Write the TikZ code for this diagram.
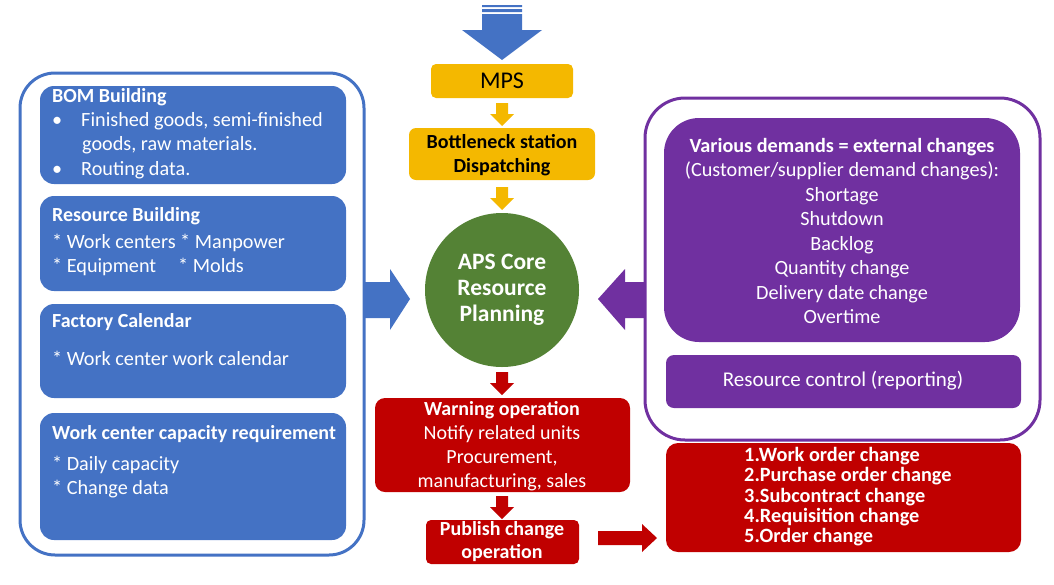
\documentclass[tikz,border=0pt]{standalone}
\usepackage{fontspec}
\setmainfont{Carlito}
\usetikzlibrary{calc}
\definecolor{blu}{HTML}{4472C4}
\definecolor{yel}{HTML}{F4B800}
\definecolor{grn}{HTML}{548235}
\definecolor{rd}{HTML}{C00000}
\definecolor{pur}{HTML}{7030A0}
\begin{document}
\begin{tikzpicture}[x=1pt,y=-1pt,
  txt/.style={align=center,inner sep=0pt},
  wtxt/.style={txt,text=white},
  ltxt/.style={align=left,inner sep=0pt,text=white,anchor=north west}]
\useasboundingbox (0,0) rectangle (1054,584);
% top arrow
\fill[blu] (482,14) rectangle (522,30) (462,30) -- (542,30) -- (502,60) -- cycle;
\fill[blu] (482,5) rectangle (522,7) (482,9) rectangle (522,12);
% MPS
\fill[yel,rounded corners=5] (431,64) rectangle (573,98);
\node[txt,font=\fontsize{24}{28}\selectfont] (mps) at (502,81) {MPS};
\fill[yel] (496,103) rectangle (508,114) (490,114) -- (514,114) -- (502,126) -- cycle;
\fill[yel,rounded corners=7] (409,128) rectangle (595,180);
\node[txt,font=\bfseries\fontsize{20}{24}\selectfont] (bn) at (502,155) {Bottleneck station\\Dispatching};
\fill[yel] (496,187) rectangle (508,198) (490,198) -- (514,198) -- (502,210) -- cycle;
% circle
\fill[grn] (502,290) circle (77);
\node[txt,text=white,font=\bfseries\fontsize{23.5}{26}\selectfont] (aps) at (502,290) {APS Core\\Resource\\Planning};
% red arrows
\fill[rd] (496,372) rectangle (508,383) (490,383) -- (514,383) -- (502,395) -- cycle;
\fill[rd,rounded corners=10] (375,398) rectangle (630,492);
\node[wtxt,font=\fontsize{20}{24}\selectfont] (warn) at (502,446) {\textbf{Warning operation}\\Notify related units\\Procurement,\\manufacturing, sales};
\fill[rd] (496,496) rectangle (508,507) (490,507) -- (514,507) -- (502,519) -- cycle;
\fill[rd,rounded corners=5] (426,520) rectangle (579,564);
\node[wtxt,font=\bfseries\fontsize{20}{23}\selectfont] (pub) at (502,542) {Publish change\\operation};
\fill[rd] (598,531) rectangle (642,545) (642,524) -- (657,538) -- (642,552) -- cycle;
\fill[rd,rounded corners=12] (666,443) rectangle (1021,552);
\node[ltxt,font=\bfseries\fontsize{20.3}{20.3}\selectfont] (chg) at (744,447) {1.Work order change\\2.Purchase order change\\3.Subcontract change\\4.Requisition change\\5.Order change};
% left panel
\draw[blu,line width=3,rounded corners=35] (20,73) rectangle (364,555);
\fill[blu,rounded corners=14] (40,86) rectangle (346,184);
\node[ltxt,font=\bfseries\fontsize{20}{20}\selectfont] (bom) at (52,88) {BOM Building};
\node[ltxt,font=\fontsize{20.2}{24.5}\selectfont] at (52,112) {•\hspace{19pt}Finished goods, semi-finished\\\hspace{30pt}goods, raw materials.\\•\hspace{19pt}Routing data.};
\fill[blu,rounded corners=14] (40,196) rectangle (346,291);
\node[ltxt,font=\bfseries\fontsize{20}{20}\selectfont] (res) at (52,207) {Resource Building};
\node[ltxt,font=\fontsize{20.2}{24}\selectfont] at (52,234) {* Work centers * Manpower\\* Equipment\hspace{22pt}* Molds};
\fill[blu,rounded corners=14] (40,304) rectangle (346,398);
\node[ltxt,font=\bfseries\fontsize{20}{20}\selectfont] (fac) at (52,313) {Factory Calendar};
\node[ltxt,font=\fontsize{20.2}{20}\selectfont] at (52,351) {* Work center work calendar};
\fill[blu,rounded corners=14] (40,413) rectangle (346,540);
\node[ltxt,font=\bfseries\fontsize{20}{20}\selectfont] (wc) at (52,425) {Work center capacity requirement};
\node[ltxt,font=\fontsize{20.2}{24}\selectfont] at (52,456) {* Daily capacity\\* Change data};
\fill[blu] (364,282) rectangle (390,318) (390,269) -- (410,299) -- (390,330) -- cycle;
% right panel
\draw[pur,line width=3,rounded corners=40] (645,98) rectangle (1040,440);
\fill[pur,rounded corners=35] (664,118) rectangle (1020,342);
\node[wtxt,font=\fontsize{20.2}{24.5}\selectfont] (dem) at (842,231) {\textbf{Various demands = external changes}\\(Customer/supplier demand changes):\\Shortage\\Shutdown\\Backlog\\Quantity change\\Delivery date change\\Overtime};
\fill[pur,rounded corners=8] (666,355) rectangle (1021,408);
\node[wtxt,font=\fontsize{21}{22}\selectfont] (rc) at (843,381) {Resource control (reporting)};
\fill[pur] (625,282) rectangle (645,318) (625,269) -- (598,299) -- (625,330) -- cycle;
\end{tikzpicture}
\end{document}
